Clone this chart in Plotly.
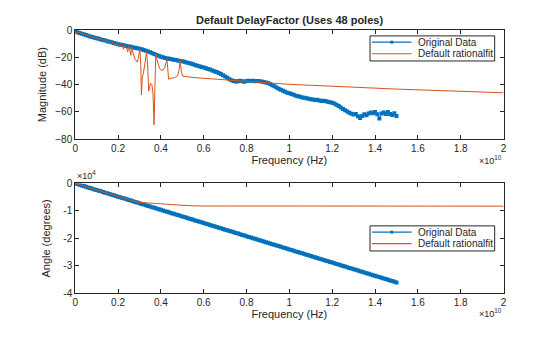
import numpy as np
import plotly.graph_objects as go

# Measured response, sampled every 0.1 GHz from 0 to 15 GHz (units of 1e10 Hz below)
freq_data = np.round(np.arange(151) * 0.01, 2)

mag_data_db = [
    -0.8, -1.5, -2.1, -2.6, -3.1, -3.6, -4.2, -4.6, -5.1, -5.6,
    -6.0, -6.4, -6.9, -7.3, -7.7, -8.2, -8.6, -9.0, -9.4, -9.9,
    -10.3, -10.6, -11.0, -11.3, -11.7, -12.0, -12.3, -12.7, -13.0, -13.3,
    -13.7, -14.1, -14.6, -15.1, -15.7, -16.3, -17.0, -17.6, -18.3, -18.9,
    -19.5, -20.0, -20.4, -20.8, -21.1, -21.4, -21.7, -22.0, -22.3, -22.6,
    -22.9, -23.3, -23.7, -24.1, -24.6, -25.1, -25.6, -26.1, -26.6, -27.1,
    -27.5, -28.0, -28.5, -29.0, -29.6, -30.2, -30.8, -31.5, -32.3, -33.2,
    -34.1, -35.0, -36.0, -36.8, -37.4, -37.8, -37.6, -37.2, -37.5, -37.9,
    -37.3, -37.1, -37.4, -37.2, -37.6, -37.3, -37.5, -37.8, -38.1, -38.4,
    -38.9, -39.6, -40.4, -41.3, -42.2, -43.0, -43.8, -44.6, -45.3, -45.9,
    -46.4, -46.9, -47.5, -48.1, -48.6, -49.0, -49.4, -49.7, -50.0, -50.3,
    -50.7, -51.0, -51.3, -51.2, -51.6, -52.0, -51.8, -52.2, -52.6, -52.9,
    -53.3, -53.9, -54.8, -55.8, -56.9, -57.9, -58.8, -59.8, -60.7, -61.4,
    -62.0, -61.5, -63.2, -64.5, -63.0, -61.8, -62.5, -61.2, -60.4, -61.0,
    -60.1, -61.7, -64.8, -61.3, -60.5, -61.6, -60.2, -61.5, -62.3, -61.0,
    -63.0,
]

phase_data_deg = [
    0, -240, -480, -720, -960, -1200, -1440, -1680, -1920, -2160,
    -2400, -2640, -2880, -3120, -3360, -3600, -3840, -4080, -4320, -4560,
    -4800, -5040, -5280, -5520, -5760, -6000, -6240, -6480, -6720, -6960,
    -7200, -7440, -7680, -7920, -8160, -8400, -8640, -8880, -9120, -9360,
    -9600, -9840, -10080, -10320, -10560, -10800, -11040, -11280, -11520, -11760,
    -12000, -12240, -12480, -12720, -12960, -13200, -13440, -13680, -13920, -14160,
    -14400, -14640, -14880, -15120, -15360, -15600, -15840, -16080, -16320, -16560,
    -16800, -17040, -17280, -17520, -17760, -18000, -18240, -18480, -18720, -18960,
    -19200, -19440, -19680, -19920, -20160, -20400, -20640, -20880, -21120, -21360,
    -21600, -21840, -22080, -22320, -22560, -22800, -23040, -23280, -23520, -23760,
    -24000, -24240, -24480, -24720, -24960, -25200, -25440, -25680, -25920, -26160,
    -26400, -26640, -26880, -27120, -27360, -27600, -27840, -28080, -28320, -28560,
    -28800, -29040, -29280, -29520, -29760, -30000, -30240, -30480, -30720, -30960,
    -31200, -31440, -31680, -31920, -32160, -32400, -32640, -32880, -33120, -33360,
    -33600, -33840, -34080, -34320, -34560, -34800, -35040, -35280, -35520, -35760,
    -36000,
]

# 48-pole rational fit evaluated on a finer grid (units of 1e10 Hz)
freq_fit = [
    0.00, 0.02, 0.05, 0.08, 0.10, 0.11, 0.115, 0.13, 0.135, 0.14,
    0.16, 0.165, 0.17, 0.18, 0.185, 0.19, 0.20, 0.205, 0.21, 0.22,
    0.225, 0.23, 0.24, 0.245, 0.25, 0.255, 0.26, 0.263, 0.27, 0.28,
    0.29, 0.295, 0.302, 0.306, 0.309, 0.313, 0.318, 0.325, 0.333, 0.338,
    0.343, 0.347, 0.352, 0.358, 0.363, 0.368, 0.372, 0.376, 0.380, 0.388,
    0.395, 0.402, 0.41, 0.418, 0.424, 0.428, 0.432, 0.436, 0.45, 0.465,
    0.478, 0.485, 0.49, 0.495, 0.502, 0.55, 0.8, 0.9, 1.0, 1.5, 2.0,
]
mag_fit_db = [
    -2.0, -1.8, -3.5, -4.8, -6.0, -6.8, -6.2, -7.5, -8.5, -7.6,
    -9.0, -10.2, -8.8, -9.8, -11.5, -9.6, -10.6, -12.5, -10.2, -11.5,
    -14.0, -11.0, -13.0, -16.0, -12.0, -14.5, -18.5, -12.0, -17.0, -21.5,
    -23.5, -20.0, -14.0, -25.0, -47.5, -35.0, -31.8, -25.0, -16.0, -25.0,
    -44.8, -42.0, -39.0, -40.0, -46.0, -69.5, -40.0, -17.0, -21.0, -26.0,
    -28.5, -29.5, -29.3, -27.5, -24.0, -21.5, -28.0, -36.0, -35.3, -34.8,
    -33.5, -29.0, -22.0, -30.0, -33.8, -34.8, -37.6, -38.6, -39.8, -43.3, -46.0,
]

freq_fit_phase = [0.0, 0.1, 0.2, 0.25, 0.28, 0.3, 0.33, 0.36, 0.4, 0.45, 0.5, 0.55, 0.6, 1.0, 2.0]
phase_fit_deg = [0, -2400, -4800, -6000, -6600, -6900, -7000, -7200, -7400, -7700, -8000, -8150, -8200, -8250, -8250]

series_names = ["Original Data", "Default rationalfit"]

BLUE = "#0072BD"
ORANGE = "#D95319"
AXIS = "#262626"
FONT = "Liberation Sans, Arial, Helvetica, sans-serif"

W, H = 560, 337
x_dom = [73 / W, 506 / W]
top_dom = [1 - 138 / H, 1 - 25 / H]
bot_dom = [1 - 298 / H, 1 - 184 / H]

scale = 1e10
fig = go.Figure()

fig.add_trace(go.Scatter(
    x=[f * scale for f in freq_data], y=mag_data_db, mode="lines+markers",
    name=series_names[0], line=dict(color=BLUE, width=1),
    marker=dict(symbol="square", size=4, color=BLUE),
    xaxis="x", yaxis="y", showlegend=False,
))
fig.add_trace(go.Scatter(
    x=[f * scale for f in freq_fit], y=mag_fit_db, mode="lines",
    name=series_names[1], line=dict(color=ORANGE, width=1),
    xaxis="x", yaxis="y", showlegend=False,
))
fig.add_trace(go.Scatter(
    x=[f * scale for f in freq_data], y=phase_data_deg, mode="lines+markers",
    name=series_names[0], line=dict(color=BLUE, width=1),
    marker=dict(symbol="square", size=4, color=BLUE),
    xaxis="x2", yaxis="y2", showlegend=False,
))
fig.add_trace(go.Scatter(
    x=[f * scale for f in freq_fit_phase], y=phase_fit_deg, mode="lines",
    name=series_names[1], line=dict(color=ORANGE, width=1),
    xaxis="x2", yaxis="y2", showlegend=False,
))

x_ticks = [i * 0.2 for i in range(11)]
x_tick_text = ["0", "0.2", "0.4", "0.6", "0.8", "1", "1.2", "1.4", "1.6", "1.8", "2"]

axis_common = dict(
    showline=True, linecolor=AXIS, linewidth=1, mirror="ticks",
    ticks="inside", ticklen=4, tickcolor=AXIS, tickwidth=1,
    showgrid=False, zeroline=False,
    tickfont=dict(family=FONT, size=10, color=AXIS),
)
xaxis_common = dict(
    axis_common, range=[0, 2 * scale], domain=x_dom,
    tickvals=[t * scale for t in x_ticks], ticktext=x_tick_text,
)

shapes = []
annotations = [
    dict(text="<b>Default DelayFactor (Uses 48 poles)</b>", xref="paper", yref="paper",
         x=(x_dom[0] + x_dom[1]) / 2, y=1 - 15 / H, xanchor="center", yanchor="middle",
         showarrow=False, font=dict(family=FONT, size=11, color=AXIS)),
    dict(text="×10<sup>10</sup>", xref="paper", yref="paper",
         x=x_dom[1], y=1 - 160 / H, xanchor="right", yanchor="middle",
         showarrow=False, font=dict(family=FONT, size=9, color=AXIS)),
    dict(text="×10<sup>10</sup>", xref="paper", yref="paper",
         x=x_dom[1], y=1 - 318 / H, xanchor="right", yanchor="middle",
         showarrow=False, font=dict(family=FONT, size=9, color=AXIS)),
    dict(text="×10<sup>4</sup>", xref="paper", yref="paper",
         x=x_dom[0], y=bot_dom[1], xanchor="left", yanchor="bottom",
         showarrow=False, font=dict(family=FONT, size=9, color=AXIS)),
]


def add_legend_box(top_px, left_px=371, right_px=497, height_px=26):
    """Compact boxed legend (line sample + label per series), in pixel units."""
    px = lambda v: v / W
    py = lambda v: 1 - v / H
    shapes.append(dict(type="rect", xref="paper", yref="paper",
                       x0=px(left_px), x1=px(right_px), y0=py(top_px), y1=py(top_px + height_px),
                       line=dict(color=AXIS, width=1), fillcolor="white", layer="above"))
    rows = [top_px + 6.5, top_px + 18.5]
    for name, color, row, with_marker in zip(series_names, [BLUE, ORANGE], rows, [True, False]):
        shapes.append(dict(type="line", xref="paper", yref="paper",
                           x0=px(left_px + 2), x1=px(left_px + 42), y0=py(row), y1=py(row),
                           line=dict(color=color, width=1.2), layer="above"))
        if with_marker:
            cx = left_px + 22
            shapes.append(dict(type="rect", xref="paper", yref="paper",
                               x0=px(cx - 1.5), x1=px(cx + 1.5), y0=py(row - 1.5), y1=py(row + 1.5),
                               line=dict(color=color, width=0), fillcolor=color, layer="above"))
        annotations.append(dict(text=name, xref="paper", yref="paper",
                                x=px(left_px + 46), y=py(row), xanchor="left", yanchor="middle",
                                showarrow=False, font=dict(family=FONT, size=10, color=AXIS)))


add_legend_box(31)
add_legend_box(228)

fig.update_layout(
    width=W, height=H, margin=dict(l=0, r=0, t=0, b=0),
    paper_bgcolor="white", plot_bgcolor="white",
    font=dict(family=FONT, color=AXIS), showlegend=False,
    xaxis=dict(xaxis_common, anchor="y",
               title=dict(text="Frequency (Hz)", font=dict(size=11, color=AXIS), standoff=2)),
    yaxis=dict(axis_common, domain=top_dom, anchor="x", range=[-80, 0],
               tickvals=[0, -20, -40, -60, -80],
               title=dict(text="Magnitude (dB)", font=dict(size=11, color=AXIS), standoff=6)),
    xaxis2=dict(xaxis_common, anchor="y2",
                title=dict(text="Frequency (Hz)", font=dict(size=11, color=AXIS), standoff=2)),
    yaxis2=dict(axis_common, domain=bot_dom, anchor="x2", range=[-40000, 0],
                tickvals=[0, -10000, -20000, -30000, -40000],
                ticktext=["0", "-1", "-2", "-3", "-4"],
                title=dict(text="Angle (degrees)", font=dict(size=11, color=AXIS), standoff=10)),
    shapes=shapes,
    annotations=annotations,
)

fig.write_html("out.html")
